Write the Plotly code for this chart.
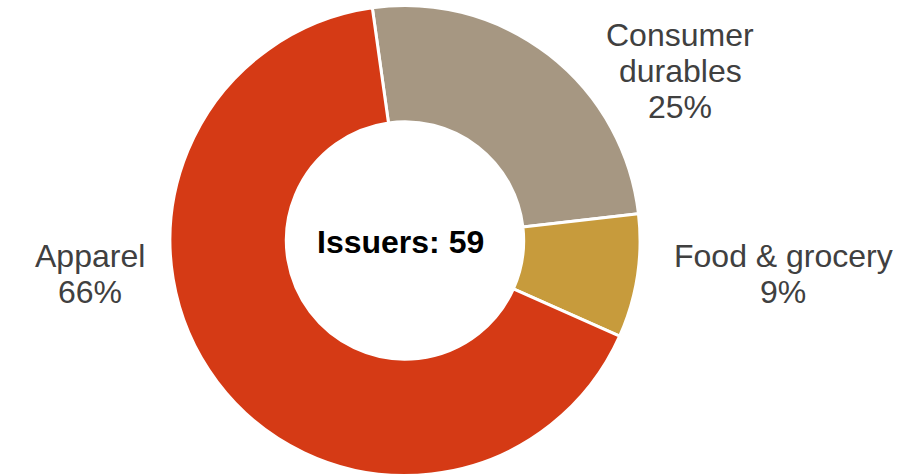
import plotly.graph_objects as go

categories = ["Consumer durables", "Food & grocery", "Apparel"]
values = [25.4, 8.5, 66.1]
pct_labels = ["25%", "9%", "66%"]
colors = ["#A69782", "#C79B3C", "#D53A15"]
label_lines = [["Consumer", "durables"], ["Food & grocery"], ["Apparel"]]
center_text = "Issuers: 59"

W, H = 916, 476
cx, cy, R = 405, 240.5, 235

fig = go.Figure()
fig.add_trace(go.Pie(
    labels=categories,
    values=values,
    sort=False,
    direction="clockwise",
    rotation=-8,
    hole=0.505,
    marker=dict(colors=colors, line=dict(color="white", width=3)),
    textinfo="none",
    hoverinfo="label",
    showlegend=False,
    domain=dict(x=[(cx - R) / W, (cx + R) / W], y=[(H - cy - R) / H, (H - cy + R) / H]),
))

# label block positions (pixel centers of first line) and line spacing
label_pos = [(680, 35), (783, 256), (90, 256)]
spacing = 36
font = dict(family="Liberation Sans, Arial, sans-serif", size=32, color="#404040")

for lines, p, (x, y) in zip(label_lines, pct_labels, label_pos):
    all_lines = lines + [p]
    for i, t in enumerate(all_lines):
        fig.add_annotation(
            x=x / W, y=1 - (y + i * spacing) / H, xref="paper", yref="paper",
            text=t, showarrow=False, xanchor="center", yanchor="middle", font=font,
        )

fig.add_annotation(
    x=400 / W, y=1 - 242.5 / H, xref="paper", yref="paper",
    text=f"<b>{center_text}</b>", showarrow=False, xanchor="center", yanchor="middle",
    font=dict(family="Liberation Sans, Arial, sans-serif", size=32, color="#000000"),
)

fig.update_layout(
    width=W, height=H, margin=dict(l=0, r=0, t=0, b=0),
    paper_bgcolor="white", plot_bgcolor="white",
)

fig.write_html("out.html")
